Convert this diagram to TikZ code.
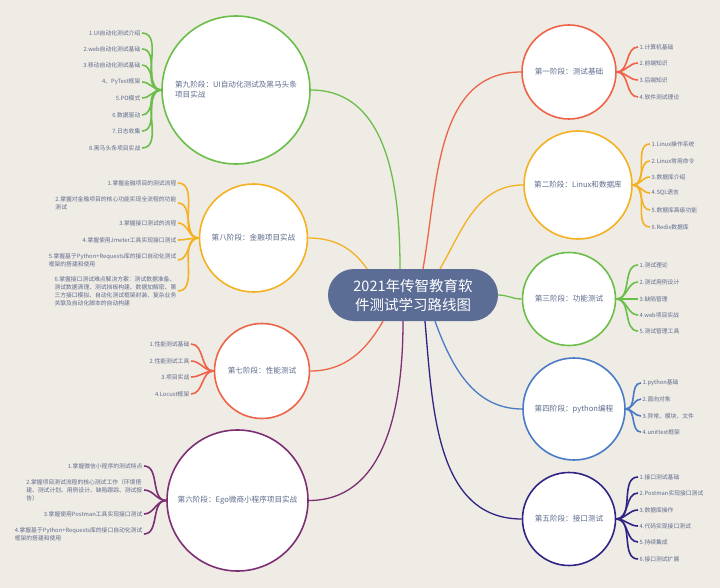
\documentclass[tikz,border=0pt]{standalone}
\usepackage{fontspec}
\setmainfont{Noto Sans CJK SC}
\usetikzlibrary{positioning}

\definecolor{bgc}{HTML}{EFEBE5}
\definecolor{topicc}{HTML}{5C6D95}
\definecolor{txtc}{HTML}{5E6C8C}
\definecolor{redc}{HTML}{EE6448}
\definecolor{orangec}{HTML}{F4B122}
\definecolor{greenc}{HTML}{6CBE4A}
\definecolor{bluec}{HTML}{4A7CC6}
\definecolor{indigoc}{HTML}{302584}
\definecolor{purplec}{HTML}{7C2F72}

\begin{document}
\begin{tikzpicture}[
    x=1pt, y=-1pt,
    topic/.style={rectangle, rounded corners=26pt, fill=topicc, text=white, minimum width=170pt, minimum height=52pt, align=center, font=\fontsize{14.5}{19}\selectfont},
    stage/.style={circle, draw, fill=white, line width=1.6pt, text=txtc, align=center, inner sep=0pt, font=\fontsize{7.6}{10}\selectfont},
    leafR/.style={anchor=west, text=txtc, inner sep=1.5pt, font=\fontsize{5.8}{8}\selectfont},
    leafL/.style={anchor=east, text=txtc, inner sep=1.5pt, align=left, font=\fontsize{5.8}{8}\selectfont},
    fanR/.style={out=0, in=180},
    fanL/.style={out=180, in=0},
    every edge/.style={draw, line width=1.3pt}
]

% background, fixes the size
\fill[bgc] (0,0) rectangle (720,588);

% central topic
\node[topic] (T) at (413,295) {2021年传智教育软\\件测试学习路线图};

% stages on the right
\node[stage, draw=redc, minimum size=94pt] (S1) at (569,72) {第一阶段：测试基础};
\node[stage, draw=orangec, minimum size=108pt] (S2) at (578,185) {第二阶段：Linux和数据库};
\node[stage, draw=greenc, minimum size=93pt] (S3) at (569,299) {第三阶段：功能测试};
\node[stage, draw=bluec, minimum size=102pt] (S4) at (574,409) {第四阶段：python编程};
\node[stage, draw=indigoc, minimum size=93pt] (S5) at (569,519) {第五阶段：接口测试};

% stages on the left
\node[stage, draw=greenc, minimum size=148pt, align=left] (S9) at (236,90) {第九阶段：UI自动化测试及黑马头条\\项目实战};
\node[stage, draw=orangec, minimum size=108pt] (S8) at (253.5,238) {第八阶段：金融项目实战};
\node[stage, draw=redc, minimum size=95pt] (S7) at (262,371) {第七阶段：性能测试};
\node[stage, draw=purplec, minimum size=141pt] (S6) at (237.5,500.5) {第六阶段：Ego微商小程序项目实战};

% topics of stage 1
\node[leafR] (C1_1) at (638,47) {1.计算机基础};
\node[leafR] (C1_2) at (638,63) {2.前端知识};
\node[leafR] (C1_3) at (638,80) {3.后端知识};
\node[leafR] (C1_4) at (638,97) {4.软件测试理论};

% topics of stage 2
\node[leafR] (C2_1) at (650,144) {1.Linux操作系统};
\node[leafR] (C2_2) at (650,161) {2.Linux常用命令};
\node[leafR] (C2_3) at (650,177) {3.数据库介绍};
\node[leafR] (C2_4) at (650,193) {4.SQL语言};
\node[leafR] (C2_5) at (650,210) {5.数据库高级功能};
\node[leafR] (C2_6) at (650,227) {6.Redis数据库};

% topics of stage 3
\node[leafR] (C3_1) at (638,265) {1.测试理论};
\node[leafR] (C3_2) at (638,282) {2.测试用例设计};
\node[leafR] (C3_3) at (638,299) {3.缺陷管理};
\node[leafR] (C3_4) at (638,315) {4.web项目实战};
\node[leafR] (C3_5) at (638,331) {5.测试管理工具};

% topics of stage 4
\node[leafR] (C4_1) at (641,383) {1.python基础};
\node[leafR] (C4_2) at (641,399) {2.面向对象};
\node[leafR] (C4_3) at (641,416) {3.异常、模块、文件};
\node[leafR] (C4_4) at (641,432) {4.unittest框架};

% topics of stage 5
\node[leafR] (C5_1) at (638,477) {1.接口测试基础};
\node[leafR] (C5_2) at (638,493) {2.Postman实现接口测试};
\node[leafR] (C5_3) at (638,510) {3.数据库操作};
\node[leafR] (C5_4) at (638,526) {4.代码实现接口测试};
\node[leafR] (C5_5) at (638,542) {5.持续集成};
\node[leafR] (C5_6) at (638,559) {6.接口测试扩展};

% topics of stage 9
\node[leafL] (C9_1) at (142,33) {1.UI自动化测试介绍};
\node[leafL] (C9_2) at (142,49) {2.web自动化测试基础};
\node[leafL] (C9_3) at (142,65) {3.移动自动化测试基础};
\node[leafL] (C9_4) at (142,82) {4、PyTest框架};
\node[leafL] (C9_5) at (142,98) {5.PO模式};
\node[leafL] (C9_6) at (142,115) {6.数据驱动};
\node[leafL] (C9_7) at (142,131) {7.日志收集};
\node[leafL] (C9_8) at (142,148) {8.黑马头条项目实战};

% topics of stage 8
\node[leafL] (C8_1) at (178,183) {1.掌握金融项目的测试流程};
\node[leafL] (C8_2) at (178,203) {2.掌握对金融项目的核心功能实现全流程的功能\\测试};
\node[leafL] (C8_3) at (178,223) {3.掌握接口测试的流程};
\node[leafL] (C8_4) at (178,240) {4.掌握使用Jmeter工具实现接口测试};
\node[leafL] (C8_5) at (178,260) {5.掌握基于Python+Requests库的接口自动化测试\\框架的搭建和使用};
\node[leafL] (C8_6) at (178,291) {6.掌握接口测试难点解决方案：测试数据准备、\\测试数据清理、测试挡板构建、数据加解密、第\\三方接口模拟、自动化测试框架封装、复杂业务\\关联及自动化脚本的自动构建};

% topics of stage 7
\node[leafL] (C7_1) at (191,344) {1.性能测试基础};
\node[leafL] (C7_2) at (191,361) {2.性能测试工具};
\node[leafL] (C7_3) at (191,377) {3.项目实战};
\node[leafL] (C7_4) at (191,394) {4.Locust框架};

% topics of stage 6
\node[leafL] (C6_1) at (144,466) {1.掌握微信小程序的测试特点};
\node[leafL] (C6_2) at (144,490) {2.掌握项目测试流程的核心测试工作（环境搭\\建、测试计划、用例设计、缺陷跟踪、测试报\\告）};
\node[leafL] (C6_3) at (144,514) {3.掌握使用Postman工具实现接口测试};
\node[leafL] (C6_4) at (144,534) {4.掌握基于Python+Requests库的接口自动化测试\\框架的搭建和使用};

% branches from the topic to the stages
\path ([xshift=10pt]T.north) edge[redc, out=80, in=180] (S1.west);
\path ([xshift=27pt]T.north) edge[orangec, out=60, in=180] (S2.west);
\path (T.east) edge[greenc, out=0, in=180] (S3.west);
\path ([xshift=22pt]T.south) edge[bluec, out=-70, in=180] (S4.west);
\path ([xshift=12pt]T.south) edge[indigoc, out=-85, in=180] (S5.west);
\path ([xshift=-10pt]T.south) edge[purplec, out=-90, in=0] (S6.east);
\path ([xshift=-30pt]T.south) edge[redc, out=-120, in=0] (S7.east);
\path ([xshift=-46pt]T.north) edge[orangec, out=125, in=0] (S8.east);
\path ([xshift=-13pt]T.north) edge[greenc, out=90, in=0] (S9.east);

% fans to the topics of each stage
\path[redc, every edge/.append style={line width=1.6pt}] (S1.east)
    edge[fanR] (C1_1.west) edge[fanR] (C1_2.west) edge[fanR] (C1_3.west) edge[fanR] (C1_4.west);
\path[orangec, every edge/.append style={line width=1.6pt}] (S2.east)
    edge[fanR] (C2_1.west) edge[fanR] (C2_2.west) edge[fanR] (C2_3.west)
    edge[fanR] (C2_4.west) edge[fanR] (C2_5.west) edge[fanR] (C2_6.west);
\path[greenc, every edge/.append style={line width=1.6pt}] (S3.east)
    edge[fanR] (C3_1.west) edge[fanR] (C3_2.west) edge[fanR] (C3_3.west)
    edge[fanR] (C3_4.west) edge[fanR] (C3_5.west);
\path[bluec, every edge/.append style={line width=1.6pt}] (S4.east)
    edge[fanR] (C4_1.west) edge[fanR] (C4_2.west) edge[fanR] (C4_3.west) edge[fanR] (C4_4.west);
\path[indigoc, every edge/.append style={line width=1.6pt}] (S5.east)
    edge[fanR] (C5_1.west) edge[fanR] (C5_2.west) edge[fanR] (C5_3.west)
    edge[fanR] (C5_4.west) edge[fanR] (C5_5.west) edge[fanR] (C5_6.west);
\path[greenc, every edge/.append style={line width=1.6pt}] (S9.west)
    edge[fanL] (C9_1.east) edge[fanL] (C9_2.east) edge[fanL] (C9_3.east) edge[fanL] (C9_4.east)
    edge[fanL] (C9_5.east) edge[fanL] (C9_6.east) edge[fanL] (C9_7.east) edge[fanL] (C9_8.east);
\path[orangec, every edge/.append style={line width=1.6pt}] (S8.west)
    edge[fanL] (C8_1.east) edge[fanL] (C8_2.east) edge[fanL] (C8_3.east)
    edge[fanL] (C8_4.east) edge[fanL] (C8_5.east) edge[fanL] (C8_6.east);
\path[redc, every edge/.append style={line width=1.6pt}] (S7.west)
    edge[fanL] (C7_1.east) edge[fanL] (C7_2.east) edge[fanL] (C7_3.east) edge[fanL] (C7_4.east);
\path[purplec, every edge/.append style={line width=1.6pt}] (S6.west)
    edge[fanL] (C6_1.east) edge[fanL] (C6_2.east) edge[fanL] (C6_3.east) edge[fanL] (C6_4.east);

\end{tikzpicture}
\end{document}
